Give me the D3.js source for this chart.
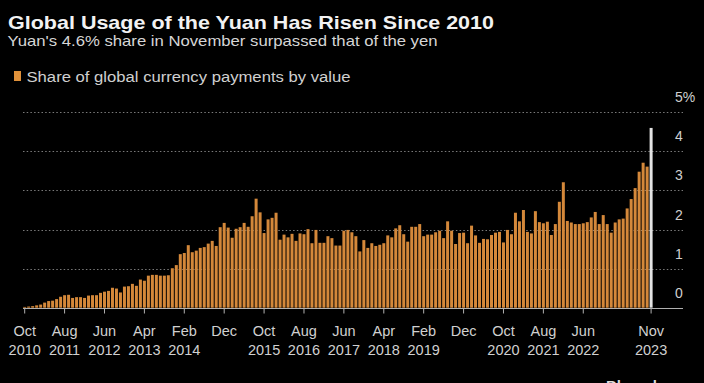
<!DOCTYPE html>
<html>
<head>
<meta charset="utf-8">
<script src="https://cdn.jsdelivr.net/npm/d3@7"></script>
<style>
  html, body { margin: 0; padding: 0; background: #000; }
  svg { display: block; }
</style>
</head>
<body>
<svg id="chart" width="704" height="383"></svg>
<script>
// ---------------- DATA ----------------
const titleText = "Global Usage of the Yuan Has Risen Since 2010";
const subtitleText = "Yuan's 4.6% share in November surpassed that of the yen";
const legendText = "Share of global currency payments by value";
const startMonth = "2010-10"; // first category, monthly through Nov 2023

// Share of global currency payments by value (%), Oct 2010 .. Nov 2023
const share = [
  0.02,0.03,0.04,0.06,0.08,0.13,0.17,0.18,0.22,0.28,
  0.32,0.33,0.25,0.27,0.27,0.25,0.31,0.32,0.32,0.38,
  0.41,0.43,0.51,0.49,0.39,0.54,0.55,0.61,0.56,0.72,
  0.69,0.82,0.84,0.84,0.82,0.82,0.83,1.01,1.09,1.37,
  1.40,1.60,1.42,1.46,1.53,1.55,1.64,1.71,1.58,2.06,
  2.17,2.05,1.79,2.02,2.06,2.17,2.07,2.34,2.79,2.44,
  1.91,2.26,2.30,2.43,1.74,1.87,1.80,1.89,1.71,1.90,
  1.88,2.01,1.65,1.99,1.66,1.66,1.83,1.78,1.59,1.59,
  1.97,1.99,1.93,1.83,1.44,1.73,1.53,1.65,1.58,1.61,
  1.65,1.85,1.80,2.03,2.11,1.88,1.69,2.07,2.07,2.14,
  1.83,1.87,1.87,1.93,1.97,1.78,2.21,1.97,1.63,1.91,
  1.92,1.65,2.10,1.85,1.66,1.76,1.75,1.86,1.92,1.94,
  1.67,1.99,1.88,2.43,2.21,2.50,1.94,1.90,2.47,2.19,
  2.16,2.20,1.86,2.14,2.71,3.21,2.22,2.18,2.14,2.14,
  2.16,2.19,2.31,2.45,2.14,2.37,2.14,1.92,2.18,2.26,
  2.28,2.54,2.78,3.06,3.48,3.71,3.61,4.60
];

// X tick labels (month keys and the two text lines)
const tickKeys   = ["2010-10","2011-08","2012-06","2013-04","2014-02","2014-12","2015-10","2016-08","2017-06","2018-04","2019-02","2019-12","2020-10","2021-08","2022-06","2023-11"];
const tickMonths = ["Oct","Aug","Jun","Apr","Feb","Dec","Oct","Aug","Jun","Apr","Feb","Dec","Oct","Aug","Jun","Nov"];
const tickYears  = ["2010","2011","2012","2013","2014","","2015","2016","2017","2018","2019","","2020","2021","2022","2023"];

// Y ticks
const yTicks = [0,1,2,3,4,5];
const yTickLabels = ["0","1","2","3","4","5%"];

// ---------------- BUILD ----------------
const parse = d3.timeParse("%Y-%m");
const fmt = d3.timeFormat("%Y-%m");
const start = parse(startMonth);
const categories = share.map((_, i) => fmt(d3.timeMonth.offset(start, i)));
const data = categories.map((k, i) => ({ key: k, value: share[i] }));

const svg = d3.select("#chart");
const W = 704, H = 383;
svg.append("rect").attr("width", W).attr("height", H).attr("fill", "#000");

const plotLeft = 23, plotRight = 683;
const x = d3.scaleBand().domain(categories).range([22.7, 653.1]).paddingInner(0.25).paddingOuter(0.125);
const y = d3.scaleLinear().domain([0, 5]).range([307.7, 112.3]);

const FONT = "Liberation Sans, Arial, sans-serif";

// Title
svg.append("text").attr("x", 8).attr("y", 29)
  .attr("font-family", FONT).attr("font-weight", "bold")
  .attr("font-size", 18.5).attr("fill", "#f2f2f2")
  .attr("textLength", 486).attr("lengthAdjust", "spacingAndGlyphs")
  .text(titleText);

svg.append("text").attr("x", 7.5).attr("y", 46)
  .attr("font-family", FONT)
  .attr("font-size", 14.5).attr("fill", "#d6d6d6")
  .attr("textLength", 430).attr("lengthAdjust", "spacingAndGlyphs")
  .text(subtitleText);

// Legend
svg.append("rect").attr("x", 14).attr("y", 71).attr("width", 7).attr("height", 10).attr("fill", "#e0913a");
svg.append("text").attr("x", 26.5).attr("y", 81.5)
  .attr("font-family", FONT)
  .attr("font-size", 14).attr("fill", "#d0d0d0")
  .attr("textLength", 324).attr("lengthAdjust", "spacingAndGlyphs")
  .text(legendText);

// Gridlines (dotted)
svg.append("g").selectAll("line").data(yTicks.filter(d => d > 0)).join("line")
  .attr("x1", plotLeft).attr("x2", plotRight)
  .attr("y1", d => Math.round(y(d)) + 0.5).attr("y2", d => Math.round(y(d)) + 0.5)
  .attr("stroke", "#7a7a7a").attr("stroke-width", 1).attr("stroke-dasharray", "1.5,2.2");

// Bars
const last = categories[categories.length - 1];
svg.append("g").selectAll("rect").data(data).join("rect")
  .attr("x", d => x(d.key))
  .attr("width", x.bandwidth())
  .attr("y", d => y(d.value))
  .attr("height", d => y(0) - y(d.value))
  .attr("fill", d => d.key === last ? "#e4e4e4" : "#d4883a");

// Y labels (placed above gridlines, Bloomberg style)
svg.append("g").selectAll("text").data(yTicks).join("text")
  .attr("x", 675).attr("y", d => y(d) - 10)
  .attr("font-family", FONT)
  .attr("font-size", 14).attr("fill", "#d0d0d0")
  .text((d, i) => yTickLabels[i]);

// X axis
const xAxis = d3.axisBottom(x).tickValues(tickKeys).tickSize(5).tickSizeOuter(0).tickFormat("");
const gx = svg.append("g").attr("transform", `translate(0,${Math.round(y(0)) + 0.5})`).call(xAxis);
gx.select(".domain").remove();
gx.selectAll(".tick line").attr("stroke", "#b0b0b0");
gx.append("line").attr("x1", plotLeft).attr("x2", plotRight).attr("y1", 0).attr("y2", 0)
  .attr("stroke", "#b0b0b0").attr("stroke-width", 1);

const labels = gx.selectAll(".tick").append("text")
  .attr("fill", "#d0d0d0").attr("text-anchor", "middle")
  .attr("font-family", FONT).attr("font-size", 14.5);
labels.append("tspan").attr("x", 0).attr("y", 27).text((d) => tickMonths[tickKeys.indexOf(d)]);
labels.append("tspan").attr("x", 0).attr("y", 46).text((d) => tickYears[tickKeys.indexOf(d)]);

// Source logo (cut off at bottom edge, as in the original)
svg.append("text").attr("x", 606).attr("y", 391)
  .attr("font-family", FONT).attr("font-weight", "bold")
  .attr("font-size", 15).attr("fill", "#dcdcdc").text("Bloomberg");
</script>
</body>
</html>
